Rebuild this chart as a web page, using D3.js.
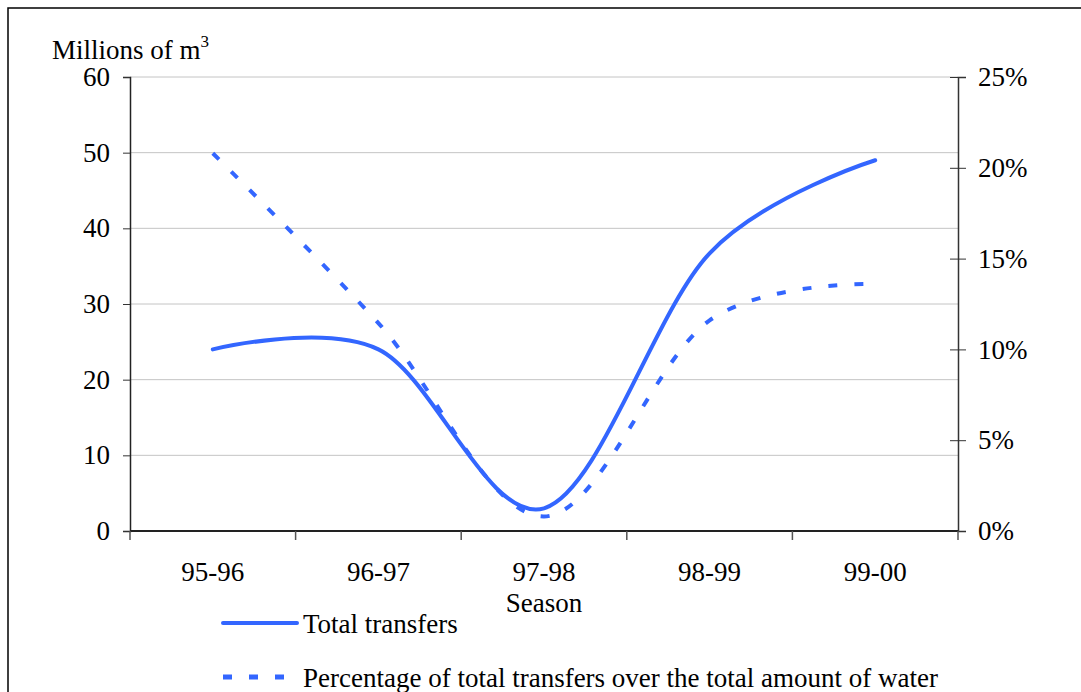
<!DOCTYPE html>
<html>
<head>
<meta charset="utf-8">
<script src="https://cdn.jsdelivr.net/npm/d3@7"></script>
<style>
  body { margin: 0; background: #fff; }
  svg { display: block; }
  svg text { font-family: "Liberation Serif", "Tinos", "Times New Roman", Times, "DejaVu Serif", serif !important; fill: #000; }
</style>
</head>
<body>
<div id="graph"></div>
<script>
const seasons = ["95-96", "96-97", "97-98", "98-99", "99-00"];
const totalTransfers = [24, 24, 3.0, 36.7, 49];
const pctTransfers = [20.8, 11.45, 0.8, 11.6, 13.6];
const leftTicks = [0, 10, 20, 30, 40, 50, 60];
const rightTicks = [0, 5, 10, 15, 20, 25];
const seriesNames = ["Total transfers", "Percentage of total transfers over the total amount of water"];

const width = 1081, height = 692;
const margin = { top: 77, left: 130, right: 123, bottom: 161 };
const blue = "#3366ff";
const fs = 27;
const serif = "'Liberation Serif', Tinos, 'Times New Roman', Times, 'DejaVu Serif', serif";

const svg = d3.select("#graph").append("svg")
  .attr("width", width).attr("height", height)
  .attr("font-family", serif);

// frame round the whole chart
svg.append("rect")
  .attr("x", 8).attr("y", 8)
  .attr("width", width + 20).attr("height", height + 20)
  .attr("fill", "none").attr("stroke", "#000").attr("stroke-width", 1.5);

const x = d3.scaleBand().domain(seasons)
  .range([margin.left, width - margin.right]).padding(0);
const y = d3.scaleLinear().domain([0, 60])
  .range([height - margin.bottom, margin.top]);
const y2 = d3.scaleLinear().domain([0, 25])
  .range([height - margin.bottom, margin.top]);

const cx = d => x(d) + x.bandwidth() / 2;

// gridlines
svg.append("g").selectAll("line")
  .data(leftTicks.slice(1))
  .enter().append("line")
  .attr("x1", margin.left).attr("x2", width - margin.right)
  .attr("y1", d => y(d)).attr("y2", d => y(d))
  .attr("stroke", "#c4c4c4").attr("stroke-width", 1);

// left axis
const yAxis = svg.append("g")
  .attr("transform", "translate(" + margin.left + ",0)")
  .call(d3.axisLeft(y).tickValues(leftTicks).tickSize(7).tickPadding(13));
yAxis.attr("font-family", serif).attr("font-size", fs);
yAxis.select(".domain").attr("stroke", "#222").attr("stroke-width", 1.5);
yAxis.selectAll(".tick line").attr("stroke", "#333");
yAxis.selectAll("text").attr("fill", "#000");

// right axis (ticks cross the line)
const y2Axis = svg.append("g")
  .attr("transform", "translate(" + (width - margin.right) + ",0)")
  .call(d3.axisRight(y2).tickValues(rightTicks).tickSize(8).tickPadding(12)
    .tickFormat(d => d + "%"));
y2Axis.attr("font-family", serif).attr("font-size", fs);
y2Axis.select(".domain").attr("stroke", "#333").attr("stroke-width", 1.5);
y2Axis.selectAll(".tick line").attr("x1", -8).attr("stroke", "#333");
y2Axis.selectAll("text").attr("fill", "#000");

// bottom axis, ticks on band edges
const xAxis = svg.append("g")
  .attr("transform", "translate(0," + (height - margin.bottom) + ")");
xAxis.append("line")
  .attr("x1", margin.left).attr("x2", width - margin.right)
  .attr("stroke", "#222").attr("stroke-width", 2);
const edges = seasons.map(d => x(d)).concat([x.range()[1]]);
xAxis.selectAll(".edge").data(edges).enter().append("line")
  .attr("class", "edge")
  .attr("x1", d => d).attr("x2", d => d)
  .attr("y1", 0).attr("y2", 9)
  .attr("stroke", "#555").attr("stroke-width", 1.5);
xAxis.selectAll(".lbl").data(seasons).enter().append("text")
  .attr("class", "lbl")
  .attr("x", d => cx(d)).attr("y", 50)
  .attr("text-anchor", "middle").attr("font-size", fs)
  .text(d => d);

svg.append("text")
  .attr("x", (margin.left + width - margin.right) / 2).attr("y", 612)
  .attr("text-anchor", "middle").attr("font-size", fs)
  .text("Season");

// y title with superscript
const title = svg.append("text").attr("x", 52).attr("y", 59).attr("font-size", fs);
title.append("tspan").text("Millions of m");
title.append("tspan").attr("font-size", 17).attr("dy", -12).text("3");

// lines
const line = (scale) => d3.line()
  .x((d, i) => cx(seasons[i]))
  .y(d => scale(d))
  .curve(d3.curveCardinal.tension(0));

svg.append("path").datum(pctTransfers)
  .attr("d", line(y2))
  .attr("fill", "none").attr("stroke", blue).attr("stroke-width", 4)
  .attr("stroke-dasharray", "9,17");

svg.append("path").datum(totalTransfers)
  .attr("d", line(y))
  .attr("fill", "none").attr("stroke", blue).attr("stroke-width", 4)
  .attr("stroke-linejoin", "round").attr("stroke-linecap", "round");

// legend
const legend = svg.append("g");
legend.append("line")
  .attr("x1", 223).attr("x2", 297).attr("y1", 623).attr("y2", 623)
  .attr("stroke", blue).attr("stroke-width", 4).attr("stroke-linecap", "round");
legend.append("text").attr("x", 303).attr("y", 633).attr("font-size", fs)
  .text(seriesNames[0]);
legend.append("line")
  .attr("x1", 223).attr("x2", 285).attr("y1", 677).attr("y2", 677)
  .attr("stroke", blue).attr("stroke-width", 5).attr("stroke-dasharray", "9,17");
legend.append("text").attr("x", 303).attr("y", 687).attr("font-size", fs)
  .text(seriesNames[1]);
</script>
</body>
</html>
